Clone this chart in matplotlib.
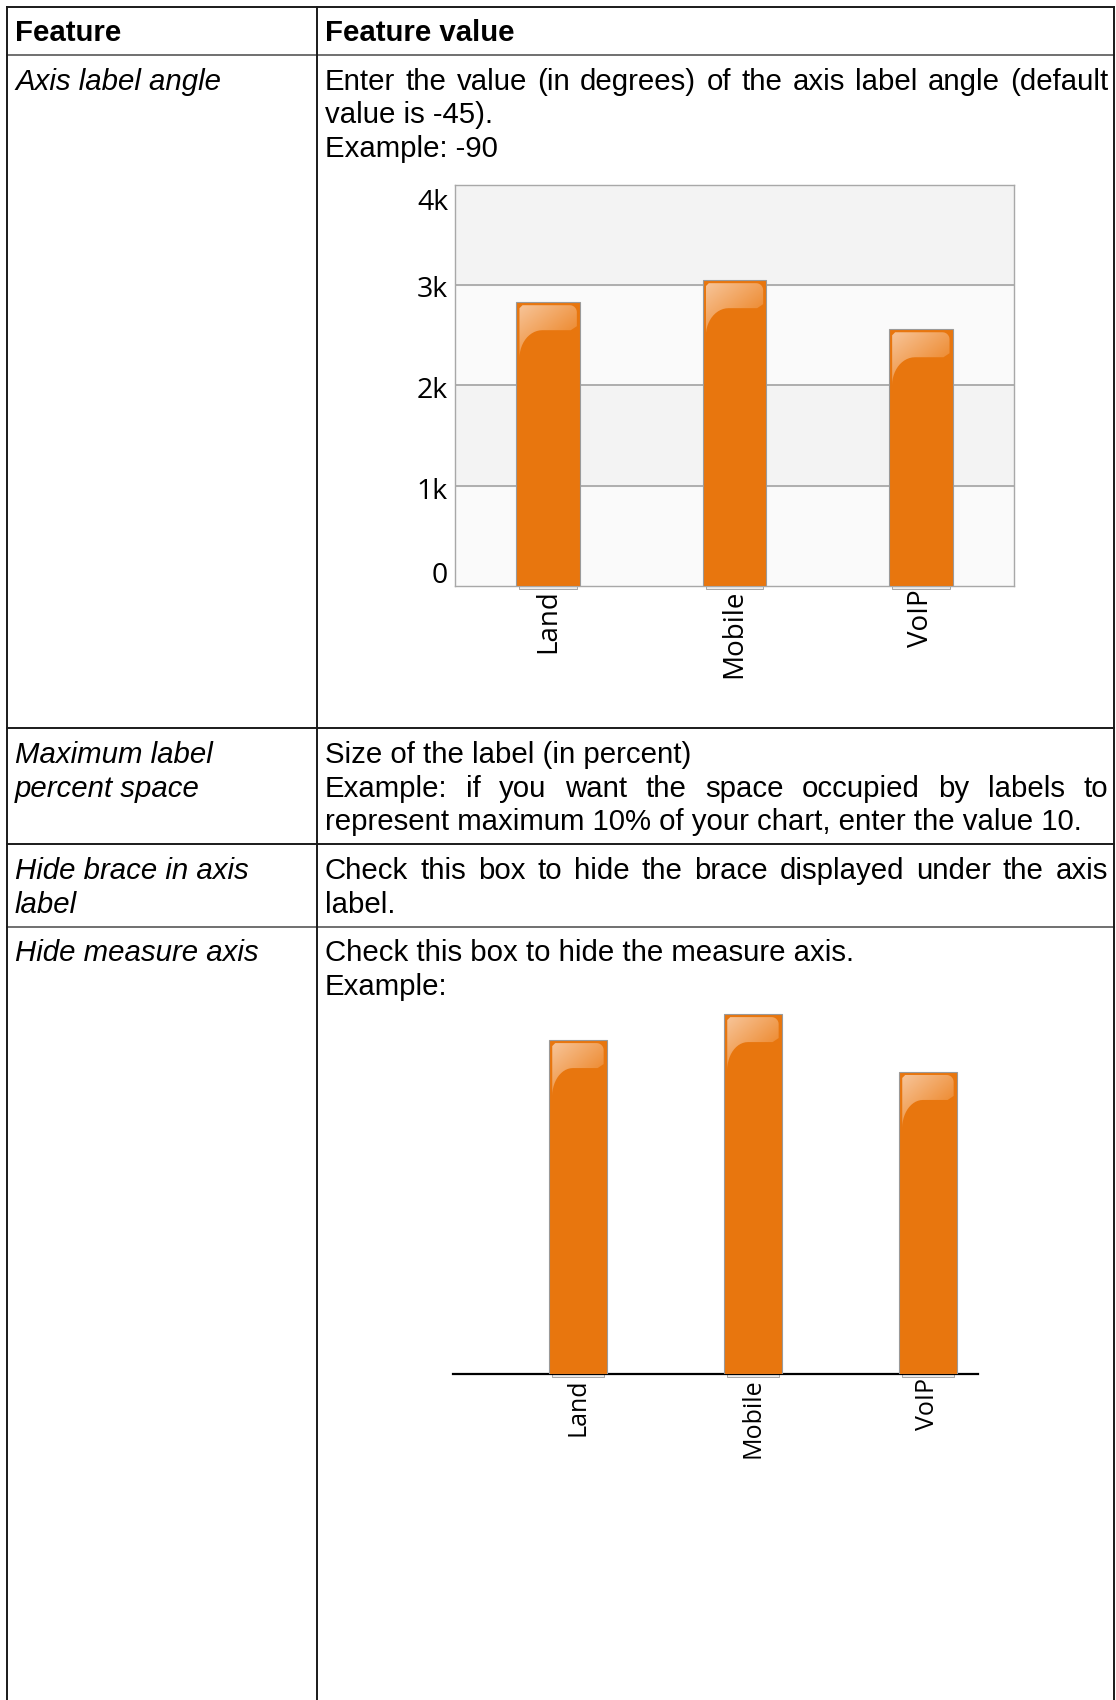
import numpy as np
import matplotlib
matplotlib.use("Agg")
import matplotlib.pyplot as plt
from matplotlib.patches import Rectangle, PathPatch
from matplotlib.path import Path

W, H = 1116, 1700
DPI = 100

# chart data
CATEGORIES = ["Land", "Mobile", "VoIP"]
VALUES = [2830, 3050, 2560]
TICKS = [0, 1000, 2000, 3000, 4000]
TICK_LABELS = ["0", "1k", "2k", "3k", "4k"]

# table text
HEADER = ["Feature", "Feature value"]
FEATURES = [
    ["Axis label angle"],
    ["Maximum label", "percent space"],
    ["Hide brace in axis", "label"],
    ["Hide measure axis"],
]
DESCRIPTIONS = [
    [("Enter the value (in degrees) of the axis label angle (default", True),
     ("value is -45).", False),
     ("Example: -90", False)],
    [("Size of the label (in percent)", False),
     ("Example: if you want the space occupied by labels to", True),
     ("represent maximum 10% of your chart, enter the value 10.", False)],
    [("Check this box to hide the brace displayed under the axis", True),
     ("label.", False)],
    [("Check this box to hide the measure axis.", False),
     ("Example:", False)],
]

ORANGE = "#e8760e"
EDGE = "#9a9a9a"
TEXT_FONT = "Liberation Sans"
CHART_FONT = "Open Sans"
FS = 21.2
LINE = 33.6

fig = plt.figure(figsize=(W / DPI, H / DPI), dpi=DPI)
renderer = fig.canvas.get_renderer()

# ---- table ---------------------------------------------------------------
tab = fig.add_axes([0, 0, 1, 1], zorder=0)
tab.set_xlim(0, W)
tab.set_ylim(H, 0)
tab.axis("off")

LEFT, MID, RIGHT, TOP = 7.3, 317.3, 1114.3, 7.3
ROW_TOPS = [55.0, 728.3, 844.3, 926.7]
dark, grey = "#1a1a1a", "#707070"

tab.plot([LEFT, RIGHT], [TOP, TOP], color=dark, lw=1.4)
for y, c in zip(ROW_TOPS, [grey, dark, dark, grey]):
    tab.plot([LEFT, RIGHT], [y, y], color=c, lw=1.4)
for x in (LEFT, MID, RIGHT):
    tab.plot([x, x], [TOP, H], color=dark, lw=1.4)


def put_line(x0, x1, y, s, justify=False, **kw):
    if not justify:
        tab.text(x0, y, s, ha="left", va="baseline", **kw)
        return
    words = s.split()
    texts = [tab.text(0, y, w, ha="left", va="baseline", **kw) for w in words]
    widths = [t.get_window_extent(renderer).width for t in texts]
    gap = (x1 - x0 - sum(widths)) / (len(words) - 1)
    x = x0
    for t, w in zip(texts, widths):
        t.set_x(x)
        x += w + gap


txt = dict(family=TEXT_FONT, fontsize=FS, color="black")
put_line(15, 0, 40.5, HEADER[0], weight="bold", **txt)
put_line(325, 0, 40.5, HEADER[1], weight="bold", **txt)

for top, names, lines in zip(ROW_TOPS, FEATURES, DESCRIPTIONS):
    base = top + 34.6
    for k, name in enumerate(names):
        put_line(15, 0, base + k * LINE, name, style="italic", **txt)
    for k, (s, just) in enumerate(lines):
        put_line(325, 1108, base + k * LINE, s, justify=just, **txt)


# ---- bar helpers ---------------------------------------------------------
def gloss(ax, xc, h, bw, sx, sy):
    """Glossy highlight at the top of a bar (sx, sy: data units per pixel)."""
    x0 = xc - bw / 2
    wp = bw / sx
    ins, rt, dr = 3.0, 7.0, 28.0
    rx, ry = 0.36 * wp, 28.0
    pts = [(ins, ins + 3), (ins + 3, ins)]
    a = np.linspace(np.pi / 2, 0, 8)
    cx, cy = wp - ins - rt, ins + rt
    pts += [(cx + rt * np.cos(t), cy - rt * np.sin(t)) for t in a]
    pts.append((wp - ins, dr - 4))
    # soft lower edge curving down towards the left side
    pts.append((wp - ins - 6, dr))
    a = np.linspace(np.pi / 2, np.pi, 14)
    cx, cy = ins + rx, dr + ry
    pts += [(cx + rx * np.cos(t), cy - ry * np.sin(t)) for t in a]
    pts.append((ins, ins + 3))
    verts = [(x0 + px * sx, h - py * sy) for px, py in pts]
    patch = PathPatch(Path(verts), fc="none", ec="none", zorder=4)
    ax.add_patch(patch)

    light = np.array([247, 196, 152]) / 255
    end = np.array([237, 136, 44]) / 255
    u = np.linspace(0, 1, 40)[None, :]
    v = np.linspace(0, 1, 40)[:, None]
    t = np.clip(0.6 * u + 0.7 * v, 0, 1)[..., None]
    rgb = light * (1 - t) + end * t
    img = np.concatenate([rgb, np.ones(t.shape)], axis=2)
    ext = [x0 + ins * sx, x0 + (wp - ins) * sx, h - (dr + ry) * sy, h - ins * sy]
    im = ax.imshow(img, extent=ext, origin="upper", aspect="auto",
                   interpolation="bilinear", zorder=4)
    im.set_clip_path(patch)


def draw_bars(ax, width, sx, sy):
    x = np.arange(len(CATEGORIES))
    ax.bar(x, VALUES, width=width, color=ORANGE, edgecolor=EDGE,
           linewidth=0.8, zorder=3)
    for xi, v in zip(x, VALUES):
        gloss(ax, xi, v, width, sx, sy)
        # small brace under the bar
        ax.add_patch(Rectangle((xi - width / 2 + 3 * sx, -3.2 * sy),
                               width - 6 * sx, 3.2 * sy, fc="#eeeeee",
                               ec=EDGE, lw=0.6, clip_on=False, zorder=2))
    return x


# ---- chart 1: axis label angle ------------------------------------------
l1, r1, t1, b1 = 455.0, 1014.0, 185.0, 585.7
ax1 = fig.add_axes([l1 / W, 1 - b1 / H, (r1 - l1) / W, (b1 - t1) / H], zorder=1)
sx1 = 3.0 / (r1 - l1)
sy1 = 4000.0 / (b1 - t1)
for k in range(4):
    ax1.axhspan(k * 1000, (k + 1) * 1000,
                color="#fafafa" if k % 2 == 0 else "#f3f3f3", zorder=0)
for tv in TICKS[1:-1]:
    ax1.axhline(tv, color="#a8a8a8", lw=1.3, zorder=1)
x1 = draw_bars(ax1, 0.34, sx1, sy1)
ax1.set_xlim(-0.5, 2.5)
ax1.set_ylim(0, 4000)
ax1.set_xticks([])
ax1.set_yticks([])
for sp in ax1.spines.values():
    sp.set_color("#a8a8a8")
    sp.set_linewidth(1.0)

shift = {0: 10, 1000: -6, 2000: -6, 3000: -5, 4000: -18}
for tv, lab in zip(TICKS, TICK_LABELS):
    ax1.annotate(lab, xy=(0, tv), xycoords=ax1.get_yaxis_transform(),
                 xytext=(-7, shift[tv]), textcoords="offset pixels",
                 ha="right", va="center", family=CHART_FONT, fontsize=20.5,
                 color="black")
for xi, lab in zip(x1, CATEGORIES):
    ax1.annotate(lab, xy=(xi, 0), xytext=(0, -4), textcoords="offset pixels",
                 rotation=90, ha="center", va="top", family=CHART_FONT,
                 fontsize=20, color="black")

# ---- chart 2: hidden measure axis ---------------------------------------
l2, r2, b2 = 453.0, 978.0, 1374.3
ppu = 0.1181  # pixels per value unit
ymax2 = 3300
ax2 = fig.add_axes([l2 / W, 1 - b2 / H, (r2 - l2) / W, ymax2 * ppu / H], zorder=1)
ax2.patch.set_alpha(0)
sx2 = 3.0 / (r2 - l2)
sy2 = 1.0 / ppu
x2 = draw_bars(ax2, 0.328, sx2, sy2)
ax2.set_xlim(-0.714, 2.286)
ax2.set_ylim(0, ymax2)
ax2.set_xticks([])
ax2.set_yticks([])
for side in ("top", "left", "right"):
    ax2.spines[side].set_visible(False)
ax2.spines["bottom"].set_color("black")
ax2.spines["bottom"].set_linewidth(1.6)
for xi, lab in zip(x2, CATEGORIES):
    ax2.annotate(lab, xy=(xi, 0), xytext=(0, -4), textcoords="offset pixels",
                 rotation=90, ha="center", va="top", family=CHART_FONT,
                 fontsize=18, color="black")

fig.savefig("out.png", dpi=DPI)
